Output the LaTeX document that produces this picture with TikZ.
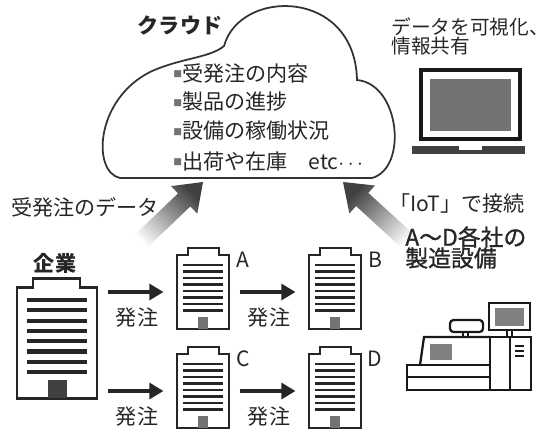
\documentclass[tikz,border=0pt]{standalone}
\usepackage{fontspec}
\setmainfont{Noto Sans CJK JP}
\newfontfamily\mediumfont{Noto Sans CJK JP}[FakeBold=1.2]
\usetikzlibrary{arrows.meta}

% small grey square in front of each cloud item
\newcommand\listmark{{\color{black!55}\raisebox{2.2pt}{\fontsize{5pt}{5pt}\selectfont ■}}}

\begin{document}
\begin{tikzpicture}[
  x=0.02cm, y=-0.02cm,
  lbl/.style={font=\fontsize{12pt}{14pt}\selectfont, text=black!85, inner sep=0pt},
  head/.style={lbl, font=\fontsize{12pt}{14pt}\selectfont\bfseries},
  mfghead/.style={lbl, anchor=west, font=\fontsize{13pt}{15pt}\selectfont\mediumfont},
  item/.style={lbl, anchor=west},
  tower/.style={inner sep=0pt, minimum width=1.04cm, minimum height=1.48cm},
  wall/.style={line width=1.1pt, black!85},
  floors/.style={line width=1.4pt, black!85},
  order/.style={-{Triangle[length=8pt,width=9pt]}, line width=2.2pt, black!85,
    shorten <=6pt, shorten >=7.5pt},
  flow/.style={top color=black!75, bottom color=white},
  kit/.style={line width=1.3pt, black!90}
]
\useasboundingbox (0,0) rectangle (550,430);

% ---------- cloud with its contents
\draw[line width=1pt, black!80] (120,178) .. controls (92,172) and (95,100) .. (150,72)
  .. controls (180,58) and (210,58) .. (224,46)
  .. controls (240,-12) and (355,-12) .. (357,80)
  .. controls (400,84) and (408,168) .. (372,178) -- cycle;
\node[head] (cloudTitle) at (180,25) {クラウド};
\foreach \y/\t [count=\i] in {73/受発注の内容, 102/製品の進捗, 131/設備の稼働状況,
    161/{出荷や在庫\quad etc$\cdots$}}
  \node[item] (item\i) at (173,\y) {\listmark\t};

% ---------- laptop, top right
\node[lbl, anchor=west, font=\fontsize{11.2pt}{13pt}\selectfont] (vis1) at (391,27) {データを可視化、};
\node[lbl, anchor=west, font=\fontsize{11.2pt}{13pt}\selectfont] (vis2) at (391,46) {情報共有};
\draw[line width=1.8pt, black!90] (421,70) rectangle (520,139);
\fill[black!55] (430,79) rectangle (511,131);
\fill[black!75] (412,146) rectangle (525,154);
\fill[white] (459,146) rectangle (482,150);

% ---------- data flowing up into the cloud
\shade[flow, shading angle=-45] (130.8,238.5) -- (178.0,193.4) -- (171.1,186.1) -- (203,182)
  -- (197.3,213.7) -- (190.4,206.4) -- (143.2,251.5) -- cycle;
\shade[flow, shading angle=45] (418.1,238.3) -- (368.3,192.9) -- (375.0,185.5) -- (343,182)
  -- (349.4,213.5) -- (356.1,206.1) -- (405.9,251.7) -- cycle;
\node[lbl] (dataLbl) at (85,207) {受発注のデータ};
\node[lbl] (iotLbl) at (457,203) {「IoT」で接続};

% ---------- ordering company
\node[head] (corpLbl) at (55,263) {企業};
\node[tower, minimum width=1.6cm, minimum height=2.22cm] (corp) at (57,342.5) {};
\draw[line width=1.7pt, black!85] (17,398) -- (17,287) -- (33,287) -- (33,278) -- (80,278)
  -- (80,287) -- (97,287) -- (97,398) -- cycle;
\foreach \k in {0,...,7}
  \draw[line width=2.3pt, black!85] (27,300+10.3*\k) -- (87,300+10.3*\k);
\fill[black!75] (48,380) rectangle (67,398);

% ---------- suppliers A-D
\foreach \b/\x/\y in {A/177/255, B/309/255, C/177/354, D/309/354}{
  \begin{scope}[shift={(\x,\y)}]
    \node[tower] (\b) at (26,37) {};
    \draw[wall] (0,74) -- (0,0) -- (11,0) -- (11,-7) -- (42,-7) -- (42,0) -- (52,0) -- (52,74) -- cycle;
    \foreach \k in {0,...,7}
      \draw[floors] (6,10+6.5*\k) -- (46,10+6.5*\k);
    \fill[black!55] (21,62) rectangle (31,74);
    \node[lbl] (\b lbl) at (66,5) {\b};
  \end{scope}
}
\draw[order] (corp.east |- A.west) -- node[lbl, below=8pt] (ord1) {発注} (A.west);
\draw[order] (A.east) -- node[lbl, below=8pt] (ord2) {発注} (B.west);
\draw[order] (corp.east |- C.west) -- node[lbl, below=8pt] (ord3) {発注} (C.west);
\draw[order] (C.east) -- node[lbl, below=8pt] (ord4) {発注} (D.west);

% ---------- production equipment
\node[mfghead] (mfg1) at (405,237) {A～D各社の};
\node[mfghead] (mfg2) at (405,258) {製造設備};
\draw[kit] (407,365) rectangle (490,390);
\draw[kit] (407,377) -- (490,377);
\draw[kit] (420,365) -- (424,337) -- (490,337);
\fill[black!50] (430,344) rectangle (452,360);
\draw[kit] (490,337) rectangle (531,390);
\draw[kit] (510,337) -- (510,390);
\foreach \y in {346,351,356}
  \draw[line width=1pt, black!90] (515,\y) -- (524,\y);
\draw[kit] (489,303) rectangle (530,330);
\fill[black!50] (495,308) rectangle (524,326);
\draw[kit] (507,330) rectangle (512,337);
\draw[kit, rounded corners=2pt] (450,320) rectangle (483,332);
\draw[kit] (463,332) rectangle (468,337);
\end{tikzpicture}
\end{document}
